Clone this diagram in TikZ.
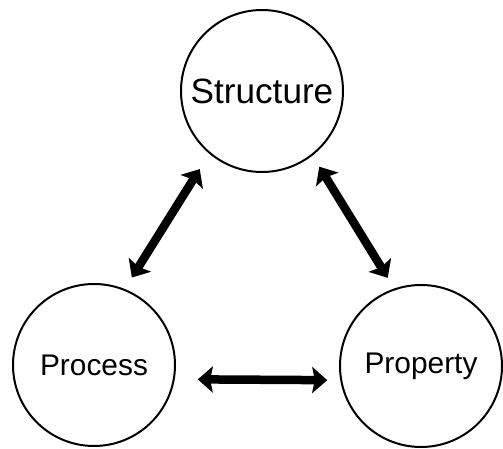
\documentclass[tikz,border=0pt]{standalone}
\usepackage{fontspec}
\setmainfont{Liberation Sans}
\usetikzlibrary{arrows.meta}

\begin{document}
\begin{tikzpicture}[
	stage/.style={circle, draw, line width=0.04cm, minimum size=3.24cm, inner sep=0pt, font=\fontsize{17}{20}\selectfont},
	link/.style={{Stealth[length=0.3cm,width=0.52cm,inset=0.05cm]}-{Stealth[length=0.3cm,width=0.52cm,inset=0.05cm]}, line width=0.17cm}
]
	\useasboundingbox (0,0) rectangle (10.06,-8.98);
	% Nodes
	\node[stage, font=\fontsize{20}{24}\selectfont] (structure) at (5.24,-1.82) {Structure};
	\node[stage] (process) at (1.88,-7.30) {Process};
	\node[stage] (property) at (8.42,-7.32) {Property};
	% Arrows
	\draw[link, shorten <=0.36cm, shorten >=0.27cm] (structure.230) -- (process.68);
	\draw[link, shorten <=0.26cm, shorten >=0.25cm] (structure.308) -- (property.109);
	\draw[link, shorten <=0.46cm, shorten >=0.26cm] (process.-10) -- (property.190);
\end{tikzpicture}
\end{document}
